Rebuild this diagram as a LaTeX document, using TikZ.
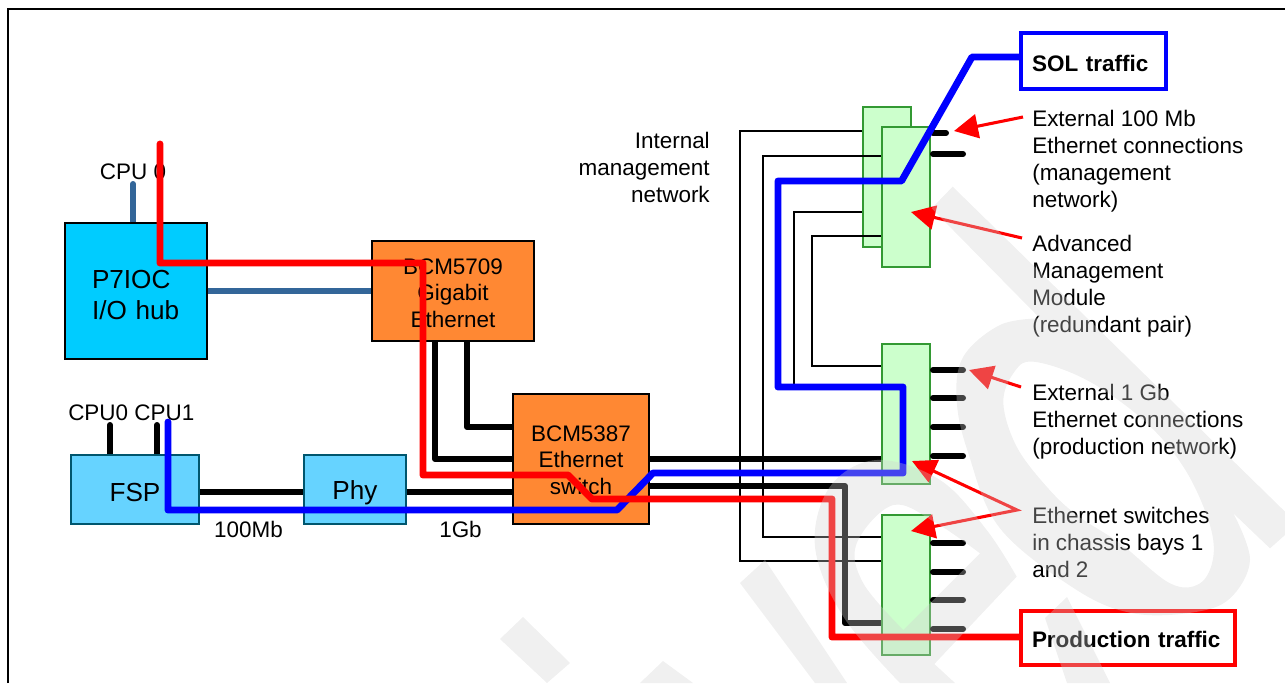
\documentclass[tikz,border=0pt]{standalone}
\usepackage{fontspec}
\setmainfont{Liberation Sans}
\usetikzlibrary{arrows.meta}
\definecolor{hubblue}{HTML}{00CCFF}
\definecolor{chipblue}{HTML}{66D3FF}
\definecolor{chipedge}{HTML}{00566E}
\definecolor{chiporange}{HTML}{FF8833}
\definecolor{modgreen}{HTML}{CCFFCC}
\definecolor{modedge}{HTML}{339933}
\definecolor{busblue}{HTML}{336699}
\definecolor{sol}{HTML}{0000FF}
\definecolor{prodred}{HTML}{FF0000}
\definecolor{wm}{gray}{0.82}
\newcommand{\drop}[1]{\rule{0pt}{#1}}
\tikzset{
  x=0.75pt,y=-0.75pt,
  txt/.style={font=\fontsize{16.85}{20.25}\selectfont,inner sep=0pt,text=black},
  bigtxt/.style={font=\fontsize{19.6}{23.2}\selectfont},
  hubbox/.style={draw=black,line width=1.1pt,fill=hubblue,inner xsep=20.25pt,inner ysep=0pt,align=left,text width=66pt,bigtxt},
  orangebox/.style={draw=black,line width=1.1pt,fill=chiporange,inner sep=0pt,align=center,font=\fontsize{16.85}{19.8}\selectfont},
  chipbox/.style={draw=chipedge,line width=1.1pt,fill=chipblue,inner sep=0pt,bigtxt},
  modbox/.style={draw=modedge,line width=1.5pt,fill=modgreen,minimum width=36pt,minimum height=105pt,inner sep=0pt},
  thinline/.style={draw=black,line width=0.9pt,line join=miter},
  busline/.style={draw=black,line width=4.5pt,line cap=round,line join=round},
  hubline/.style={draw=busblue,line width=4.5pt,line cap=round},
  solline/.style={draw=sol,line width=5.2pt,line cap=round,line join=round},
  prodline/.style={draw=prodred,line width=5.2pt,line cap=round,line join=round},
  callout/.style={draw=prodred,line width=2.3pt,line join=miter},
  fat/.style={-{Triangle[length=18pt,width=18pt]}},
  fatboth/.style={{Triangle[length=18pt,width=18pt]}-{Triangle[length=18pt,width=18pt]}},
  tagbox/.style={fill=white,line width=3pt,inner ysep=0pt,inner xsep=8.25pt,align=left,font=\fontsize{16.85}{20.25}\selectfont\bfseries},
  label/.style={txt,align=left,anchor=west},
  watermark/.style={fill=wm,fill opacity=0.33,draw=none},
}
\begin{document}
\begin{tikzpicture}
\useasboundingbox (0,0) rectangle (1285,683);
\coordinate (fa) at (8,683);
\coordinate (fb) at (8,9);
\coordinate (fc) at (1285,9);
\draw[line width=1pt,black] (fa) -- (fb) -- (fc);

% modules, back one first
\node[modbox] (ammb) at (886.5,177) {};
\draw[thinline] (ammb.west |- 0,131) -- (740,131) -- (740,561) -- (882,561) coordinate (a1);
\draw[thinline] (882,156) -- (763,156) -- (763,537) -- (882,537) coordinate (a2);
\draw[thinline] (ammb.west |- 0,212) -- (794,212) -- (794,387) -- (882,387) coordinate (a3);
\draw[thinline] (882,236) -- (812,236) -- (812,366) -- (882,366) coordinate (a4);
\node[modbox] (ammf) at (906,197) {};
\node[modbox] (swa) at (906,414) {};
\node[modbox,minimum height=105pt] (swb) at (906,585) {};

% chips
\node[hubbox,minimum width=106.5pt,minimum height=102pt] (hub) at (136,291) {\drop{19pt}P7IOC\\I/O hub};
\node[orangebox,minimum width=121.5pt,minimum height=75pt] (bcma) at (453,291) {\drop{15.1pt}BCM5709\\Gigabit\\Ethernet};
\node[orangebox,minimum width=102pt,minimum height=97.5pt] (bcmb) at (581,459) {\drop{13.6pt}BCM5387\\Ethernet\\switch};
\node[chipbox,minimum width=96pt,minimum height=51.75pt] (fsp) at (135,489.5) {\drop{18.5pt}FSP};
\node[chipbox,minimum width=76.5pt,minimum height=51.75pt] (phy) at (355,489.5) {\drop{18.5pt}Phy};

% text
\node[label,anchor=center] (cpu) at (133,172) {CPU 0};
\node[label,anchor=west] (cpua) at (68,413) {CPU0 CPU1};
\node[label,anchor=center] (mba) at (248.5,529) {100Mb};
\node[label,anchor=center] (gba) at (460.5,529) {1Gb};
\node[txt,align=right,anchor=east] (intnet) at (710,167.5) {Internal\\management\\network};
\node[label] (exta) at (1032,161) {External 100 Mb\\Ethernet connections\\(management\\network)};
\node[label] (amm) at (1032,286) {Advanced\\Management\\Module\\(redundant pair)};
\node[label] (extb) at (1032,421.5) {External 1 Gb\\Ethernet connections\\(production network)};
\node[label] (swt) at (1032,542) {Ethernet switches\\in chassis bays 1\\and 2};

% stubs and buses
\coordinate (cpuend) at (133,184);
\coordinate (fspa) at (110,425);
\coordinate (fspb) at (157,425);
\draw[hubline,line cap=butt] (hub.north -| cpuend) -- (cpuend);
\fill[busblue] (cpuend) circle (2.25pt);
\draw[hubline,line cap=butt] (hub.east) -- (bcma.west);
\draw[busline,line cap=butt] (fsp.north -| fspa) -- (fspa);
\fill[black] (fspa) circle (2.25pt);
\draw[busline,line cap=butt] (fsp.north -| fspb) -- (fspb);
\fill[black] (fspb) circle (2.25pt);
\draw[busline,line cap=butt] (fsp.east |- 0,492) -- (phy.west |- 0,492);
\draw[busline,line cap=butt] (phy.east |- 0,492) -- (bcmb.west |- 0,492);
\draw[busline,line cap=butt] (bcma.south -| 467,0) -- (467,427) -- (bcmb.west |- 0,427);
\draw[busline,line cap=butt] (bcma.south -| 435,0) -- (435,459) -- (bcmb.west |- 0,459);
\draw[busline,line cap=butt] (bcmb.east |- 0,459) -- (swa.west |- 0,459);
\draw[busline,line cap=butt] (bcmb.east |- 0,486) -- (845,486) -- (845,623) -- (swb.west |- 0,623);

% external ports
\coordinate (pa) at (946,133);
\coordinate (pb) at (963,154);
\draw[busline] ([xshift=1.5pt]ammf.east |- pa) -- (pa);
\draw[busline] ([xshift=1.5pt]ammf.east |- pb) -- (pb);
\foreach \yy in {370,398,427,456}
  \draw[busline] ([xshift=1.5pt]swa.east |- 0,\yy) -- (963,\yy);
\foreach \yy in {543,572,600,629}
  \draw[busline] ([xshift=1.5pt]swb.east |- 0,\yy) -- (963,\yy);

% traffic tags
\node[tagbox,draw=sol,minimum width=108.75pt,minimum height=42pt,text width=92pt] (soltag) at (1093.5,61) {\drop{16.6pt}SOL traffic};
\node[tagbox,draw=prodred,minimum width=160.9pt,minimum height=40.5pt,text width=144pt] (prodtag) at (1128,638) {\drop{15.1pt}Production traffic};

% traffic paths
\coordinate (solstart) at (168,422);
\draw[solline] (solstart) -- (168,510) -- (617,510) -- (653,473) -- (903,473) -- (903,387) -- (778,387) -- (778,181) -- (901.5,181) -- (972,57) -- (soltag.west |- 0,57);
\coordinate (prodstart) at (160,144);
\draw[prodline] (prodstart) -- (160,263) -- (423,263) -- (423,475) -- (568,475) -- (592,499) -- (832,499) -- (832,637) -- (prodtag.west |- 0,637);

% callouts
\coordinate (ca) at (1023,117);
\coordinate (cat) at (954,131);
\coordinate (cb) at (1022,238);
\coordinate (cbt) at (911,212);
\coordinate (cc) at (1021,387);
\coordinate (cct) at (969,370);
\coordinate (cd) at (1017,510);
\coordinate (cdt) at (912,461);
\coordinate (cdu) at (911,531);
\draw[callout,fat] (ca) -- (cat);
\draw[callout,fat] (cb) -- (cbt);
\draw[callout,fat] (cc) -- (cct);
\draw[callout,fatboth] (cdt) -- (cd) -- (cdu);

% watermark, laid over everything
\fill[watermark] (500,639) -- (523,617) -- (570,663) -- (547,683) -- cycle;
\fill[watermark] (640,683) -- (663,661) -- (693,683) -- cycle;
\fill[watermark] (740,583) -- (765,560) -- (847,683) -- (815,683) -- cycle;
\fill[watermark] (1045,618) -- (1067,597) -- (1110,683) -- (1067,683) -- cycle;
\begin{scope}[shift={(800,170)},x=0.25pt,y=-0.25pt]
\fill[watermark,even odd rule]
  (458,50) -- (1455,1025) -- (1455,1095) -- (1410,1135) -- (1300,1030)
  -- plot[smooth,tension=0.6] coordinates {(1300,1030) (1350,1170) (1290,1285) (1180,1327) (1000,1330) (830,1260) (600,1075) (505,850) (470,690) (490,560) (600,465) (720,445)}
  -- (395,115) -- cycle
  plot[smooth cycle,tension=0.6] coordinates {(700,575) (860,630) (1030,750) (1150,890) (1225,1050) (1240,1160) (1200,1240) (1110,1240) (960,1120) (830,1035) (740,950) (650,830) (610,700) (640,610)};
\fill[watermark,even odd rule]
  (300,1539)
  -- plot[smooth,tension=0.6] coordinates {(300,1539) (130,1340) (45,1130) (90,950) (230,870) (420,930) (560,1080) (650,1220)}
  -- (403,1482) -- (465,1539) -- cycle
  (540,1150) -- (310,1380)
  -- plot[smooth,tension=0.6] coordinates {(310,1380) (190,1240) (170,1120) (280,1005) (410,1060) (540,1150)}
  -- cycle;
\end{scope}
\end{tikzpicture}
\end{document}
